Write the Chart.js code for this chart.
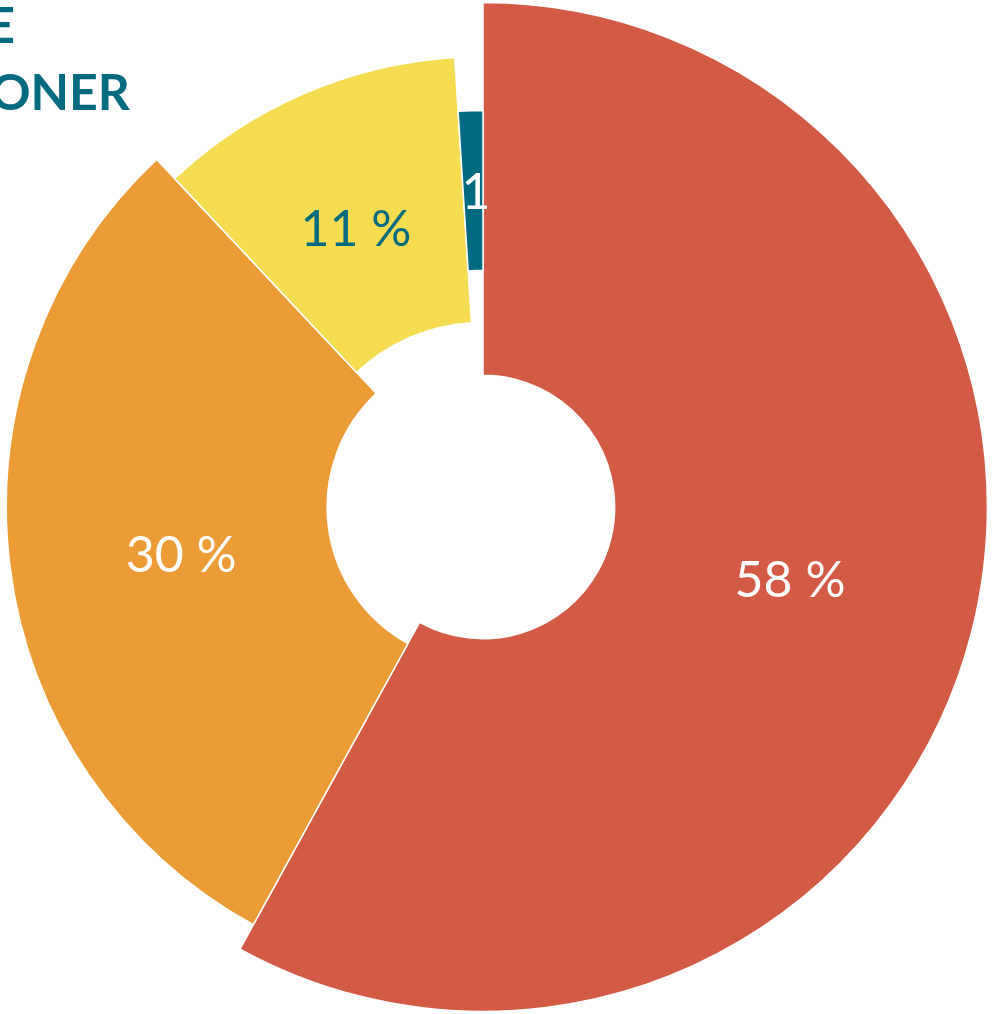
<!DOCTYPE html>
<html>
<head>
<meta charset="utf-8">
<script src="https://cdn.jsdelivr.net/npm/chart.js@4/dist/chart.umd.min.js"></script>
<style>
  html, body { margin: 0; padding: 0; background: #fff; overflow: hidden; }
  #wrap { width: 996px; height: 1014px; position: relative; }
</style>
</head>
<body>
<div id="wrap"><canvas id="torta"></canvas></div>
<script>
// dati
var categorie = ['A', 'B', 'C', 'D'];
var valori = [58, 30, 11, 1];
var etichette = ['58 %', '30 %', '11 %', '1'];

// colori e spessori delle fette (raggio relativo a quello massimo)
var colori = ['#D35A45', '#EC9C34', '#F5DC50', '#006A80'];
var coloriTesto = ['#ffffff', '#ffffff', '#006A80', '#ffffff'];
var raggioEsterno = [1.0, 0.945, 0.893, 0.786];
var raggioInterno = [0.261, 0.309, 0.366, 0.469];
// piccolo spostamento delle etichette (px)
var spostaX = [-1, 12, -1, 3];
var spostaY = [-5, 9, 14, 2];

// frammenti di legenda tagliati in alto a sinistra
var legenda = ['E', 'ONER'];

//#### plugin: ogni fetta ha il suo raggio
var raggiVariabili = {
  id: 'raggiVariabili',
  afterDatasetsUpdate: function(chart) {
    var meta = chart.getDatasetMeta(0);
    meta.data.forEach(function(arc, i) {
      var R = arc.outerRadius;
      arc.outerRadius = R * raggioEsterno[i];
      arc.innerRadius = R * raggioInterno[i];
    });
  },
  afterDatasetsDraw: function(chart) {
    var ctx = chart.ctx;
    var meta = chart.getDatasetMeta(0);
    ctx.save();
    ctx.textAlign = 'center';
    ctx.textBaseline = 'middle';
    meta.data.forEach(function(arc, i) {
      var mid = (arc.startAngle + arc.endAngle) / 2;
      var r = (arc.innerRadius + arc.outerRadius) / 2;
      var x = arc.x + Math.cos(mid) * r + spostaX[i];
      var y = arc.y + Math.sin(mid) * r + spostaY[i];
      ctx.fillStyle = coloriTesto[i];
      ctx.font = '50px Lato';
      ctx.fillText(etichette[i], x, y);
    });

    // legenda (tagliata dal bordo)
    ctx.fillStyle = '#006A80';
    ctx.font = 'bold 50px Lato';
    ctx.textAlign = 'right';
    ctx.textBaseline = 'alphabetic';
    ctx.fillText(legenda[0], 15, 43);
    ctx.fillText(legenda[1], 130, 110);
    ctx.restore();
  }
};

var chart = new Chart(document.getElementById('torta'), {
  type: 'doughnut',
  data: {
    labels: categorie,
    datasets: [{
      data: valori,
      backgroundColor: colori,
      borderColor: '#ffffff',
      borderWidth: 1.5
    }]
  },
  options: {
    responsive: true,
    maintainAspectRatio: false,
    animation: false,
    events: [],
    radius: '104.6%',
    cutout: '26%',
    layout: { padding: { right: 30 } },
    plugins: {
      legend: { display: false },
      tooltip: { enabled: false }
    }
  },
  plugins: [raggiVariabili]
});
</script>
</body>
</html>
